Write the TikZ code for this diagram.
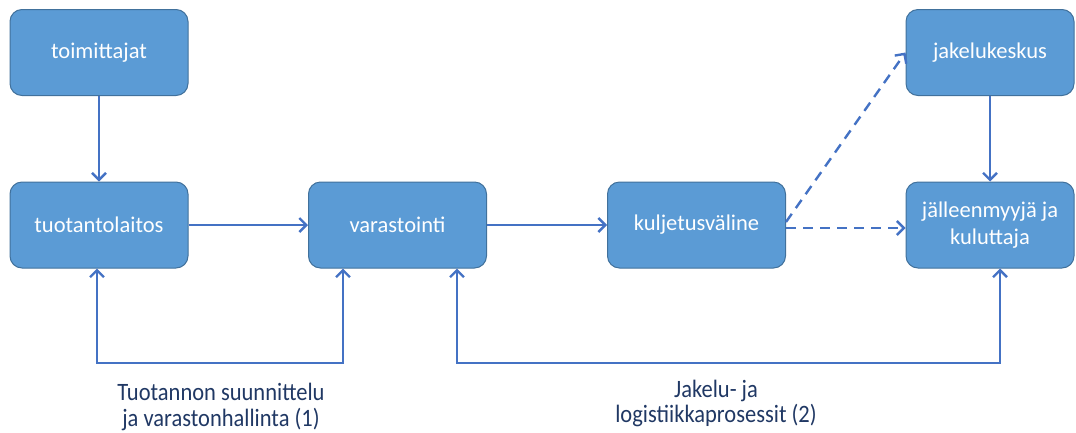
\documentclass[tikz,border=0pt]{standalone}
\usepackage{fontspec}
\usepackage{graphicx}
\setmainfont{Carlito}
\usetikzlibrary{arrows.meta}
\definecolor{boxfill}{HTML}{5B9BD5}
\definecolor{boxline}{HTML}{41719C}
\definecolor{arrowc}{HTML}{4472C4}
\definecolor{labelc}{HTML}{203864}
\begin{document}
\begin{tikzpicture}[x=1pt,y=-1pt,
  box/.style={draw=boxline, line width=1pt, fill=boxfill, rounded corners=12pt,
    text=white, font=\fontsize{22.5}{27}\selectfont, align=center,
    minimum width=178pt, minimum height=86pt, inner sep=0pt},
  arr/.style={draw=arrowc, line width=2.4pt, -{Straight Barb[length=7pt,width=14pt]}},
  arrboth/.style={draw=arrowc, line width=2.4pt, {Straight Barb[length=7pt,width=14pt]}-{Straight Barb[length=7pt,width=14pt]}},
  darr/.style={arr, dash pattern=on 10pt off 7pt},
  lbl/.style={text=labelc, font=\fontsize{25}{25}\selectfont, inner sep=0pt, anchor=base}]
\useasboundingbox (0,0) rectangle (1076,432);
\node[box] (A) at (99,52.5) {toimittajat};
\node[box] (B) at (99,225) {tuotantolaitos};
\node[box] (C) at (397.5,225) {varastointi};
\node[box] (D) at (696.5,225) {kuljetusväline};
\node[box, minimum width=168pt] (E) at (990,52.5) {jakelukeskus};
\node[box, minimum width=168pt] (F) at (990,225) {jälleenmyyjä ja\\kuluttaja};
\coordinate (L1) at (220,363);
\coordinate (L2) at (728,363);
\draw[arr] (A) -- (B);
\draw[arr] (B) -- (C);
\draw[arr] (C) -- (D);
\draw[darr] ([yshift=3pt]D.east) -- (E.west);
\draw[darr] ([yshift=-3pt]D.east) -- ([yshift=-3pt]F.west);
\draw[arr] (E) -- (F);
\draw[arrboth] ([xshift=-2pt]B.south) |- (L1) -| ([xshift=-54.5pt]C.south);
\draw[arrboth] ([xshift=59.5pt]C.south) |- (L2) -| ([xshift=10pt]F.south);
\node[lbl] (T1a) at (221,400) {\scalebox{0.9}[1]{Tuotannon suunnittelu}};
\node[lbl] (T1b) at (221,426) {\scalebox{0.9}[1]{ja varastonhallinta (1)}};
\node[lbl] (T2a) at (716,397) {\scalebox{0.9}[1]{Jakelu- ja}};
\node[lbl] (T2b) at (716,422) {\scalebox{0.9}[1]{logistiikkaprosessit (2)}};
\end{tikzpicture}
\end{document}
